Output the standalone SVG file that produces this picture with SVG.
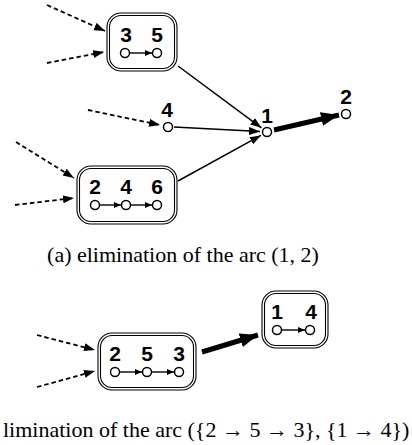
<svg xmlns="http://www.w3.org/2000/svg" width="412" height="445" viewBox="0 0 412 445">
<style>
.box{fill:none;stroke:#000;stroke-width:1.1}
.lbl{font-family:"Liberation Sans",Arial,sans-serif;font-weight:bold;font-size:21px;text-anchor:middle;fill:#000}
.pt{fill:#fff;stroke:#000;stroke-width:1.5}
.in{stroke:#000;stroke-width:1.4;fill:none;marker-end:url(#sm)}
.dash{stroke:#000;stroke-width:1.8;stroke-dasharray:4.5 3;fill:none;marker-end:url(#ah)}
.thin{stroke:#000;stroke-width:1.5;fill:none;marker-end:url(#ah)}
.thick{stroke:#000;stroke-width:5;fill:none;marker-end:url(#big)}
.cap{font-family:"Liberation Serif","Times New Roman",serif;font-size:22px;fill:#000}
</style>
<defs>
<marker id="ah" markerUnits="userSpaceOnUse" markerWidth="12" markerHeight="9" refX="11" refY="4" orient="auto"><path d="M0,0 L11,4 L0,8 z" fill="#000"/></marker>
<marker id="big" markerUnits="userSpaceOnUse" markerWidth="19" markerHeight="15" refX="18" refY="7" orient="auto"><path d="M0,0 L18,7 L0,14 z" fill="#000"/></marker>
<marker id="sm" markerUnits="userSpaceOnUse" markerWidth="8" markerHeight="7" refX="7" refY="3" orient="auto"><path d="M0,0 L7,3 L0,6 z" fill="#000"/></marker>
</defs>

<g id="connectors">
<line class="dash" x1="47" y1="5" x2="105" y2="31"/>
<line class="dash" x1="47" y1="63" x2="104" y2="52"/>
<line class="dash" x1="88" y1="110" x2="160" y2="125"/>
<line class="dash" x1="16" y1="142" x2="74" y2="178"/>
<line class="dash" x1="15" y1="205" x2="74" y2="198"/>
<line class="thin" x1="178" y1="66" x2="261.4" y2="127.8"/>
<line class="thin" x1="174" y1="127" x2="260" y2="131.6"/>
<line class="thin" x1="178" y1="181" x2="260.9" y2="135.4"/>
<line class="thick" x1="274" y1="130" x2="339" y2="115"/>
<line class="dash" x1="37" y1="335" x2="95" y2="350"/>
<line class="dash" x1="37" y1="387" x2="95" y2="371"/>
<line class="thick" x1="202" y1="352" x2="258" y2="335"/>
</g>

<g id="node-35">
<rect class="box" x="107" y="13" width="70" height="58" rx="14"/>
<rect class="box" x="109.5" y="15.5" width="65" height="53" rx="11.5"/>
<text class="lbl" x="126" y="42">3</text>
<text class="lbl" x="157" y="42">5</text>
<line class="in" x1="130" y1="53" x2="152" y2="53"/>
<circle class="pt" cx="125" cy="53" r="4.5"/>
<circle class="pt" cx="157" cy="53" r="4.5"/>
</g>

<g id="node-4">
<text class="lbl" x="167" y="117">4</text>
<circle class="pt" cx="168" cy="127" r="4.5"/>
</g>

<g id="node-1">
<text class="lbl" x="267" y="123">1</text>
<circle class="pt" cx="267" cy="132" r="4.5"/>
</g>

<g id="node-2">
<text class="lbl" x="346" y="104">2</text>
<circle class="pt" cx="346" cy="114" r="4.5"/>
</g>

<g id="node-246">
<rect class="box" x="77" y="166" width="100" height="58" rx="14"/>
<rect class="box" x="79.5" y="168.5" width="95" height="53" rx="11.5"/>
<text class="lbl" x="95" y="194">2</text>
<text class="lbl" x="126" y="194">4</text>
<text class="lbl" x="157" y="194">6</text>
<line class="in" x1="100" y1="205" x2="121" y2="205"/>
<line class="in" x1="131" y1="205" x2="152" y2="205"/>
<circle class="pt" cx="95" cy="205" r="4.5"/>
<circle class="pt" cx="126" cy="205" r="4.5"/>
<circle class="pt" cx="157" cy="205" r="4.5"/>
</g>

<text class="cap" x="183" y="262" text-anchor="middle">(a) elimination of the arc (1, 2)</text>

<g id="node-253">
<rect class="box" x="98" y="333" width="98" height="57" rx="14"/>
<rect class="box" x="100.5" y="335.5" width="93" height="52" rx="11.5"/>
<text class="lbl" x="115" y="361">2</text>
<text class="lbl" x="147" y="361">5</text>
<text class="lbl" x="179" y="361">3</text>
<line class="in" x1="120" y1="372" x2="142" y2="372"/>
<line class="in" x1="152" y1="372" x2="174" y2="372"/>
<circle class="pt" cx="115" cy="372" r="4.5"/>
<circle class="pt" cx="147" cy="372" r="4.5"/>
<circle class="pt" cx="179" cy="372" r="4.5"/>
</g>

<g id="node-14">
<rect class="box" x="262" y="291" width="66" height="57" rx="14"/>
<rect class="box" x="264.5" y="293.5" width="61" height="52" rx="11.5"/>
<text class="lbl" x="277" y="319">1</text>
<text class="lbl" x="311" y="319">4</text>
<line class="in" x1="282" y1="330" x2="305" y2="330"/>
<circle class="pt" cx="277" cy="330" r="4.5"/>
<circle class="pt" cx="310" cy="330" r="4.5"/>
</g>

<text class="cap" x="3" y="437">limination of the arc ({2 → 5 → 3}, {1 → 4})</text>
</svg>
